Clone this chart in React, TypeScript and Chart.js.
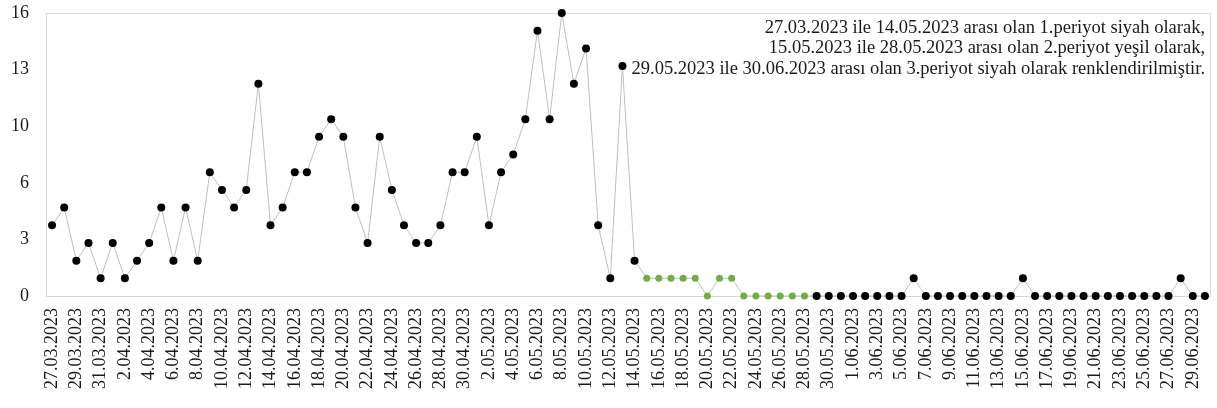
import React, { useEffect, useRef } from "react";
import { Chart, registerables } from "chart.js";

Chart.register(...registerables);

const dateLabels: string[] = [
  "27.03.2023", "28.03.2023", "29.03.2023", "30.03.2023", "31.03.2023",
  "1.04.2023", "2.04.2023", "3.04.2023", "4.04.2023", "5.04.2023", "6.04.2023", "7.04.2023", "8.04.2023", "9.04.2023", "10.04.2023",
  "11.04.2023", "12.04.2023", "13.04.2023", "14.04.2023", "15.04.2023", "16.04.2023", "17.04.2023", "18.04.2023", "19.04.2023", "20.04.2023",
  "21.04.2023", "22.04.2023", "23.04.2023", "24.04.2023", "25.04.2023", "26.04.2023", "27.04.2023", "28.04.2023", "29.04.2023", "30.04.2023",
  "1.05.2023", "2.05.2023", "3.05.2023", "4.05.2023", "5.05.2023", "6.05.2023", "7.05.2023", "8.05.2023", "9.05.2023", "10.05.2023",
  "11.05.2023", "12.05.2023", "13.05.2023", "14.05.2023", "15.05.2023", "16.05.2023", "17.05.2023", "18.05.2023", "19.05.2023", "20.05.2023",
  "21.05.2023", "22.05.2023", "23.05.2023", "24.05.2023", "25.05.2023", "26.05.2023", "27.05.2023", "28.05.2023", "29.05.2023", "30.05.2023",
  "31.05.2023", "1.06.2023", "2.06.2023", "3.06.2023", "4.06.2023", "5.06.2023", "6.06.2023", "7.06.2023", "8.06.2023", "9.06.2023",
  "10.06.2023", "11.06.2023", "12.06.2023", "13.06.2023", "14.06.2023", "15.06.2023", "16.06.2023", "17.06.2023", "18.06.2023", "19.06.2023",
  "20.06.2023", "21.06.2023", "22.06.2023", "23.06.2023", "24.06.2023", "25.06.2023", "26.06.2023", "27.06.2023", "28.06.2023", "29.06.2023",
  "30.06.2023",
];

// 1st period: 27.03.2023 – 14.05.2023 (black)
const period1Values: number[] = [
  4, 5, 2, 3, 1,
  3, 1, 2, 3, 5, 2, 5, 2, 7, 6, 5, 6, 12, 4, 5, 7, 7, 9, 10, 9, 5, 3, 9, 6, 4, 3, 3, 4, 7, 7,
  9, 4, 7, 8, 10, 15, 10, 16, 12, 14, 4, 1, 13, 2,
];
// 2nd period: 15.05.2023 – 28.05.2023 (green)
const period2Values: number[] = [1, 1, 1, 1, 1, 0, 1, 1, 0, 0, 0, 0, 0, 0];
// 3rd period: 29.05.2023 – 30.06.2023 (black)
const period3Values: number[] = [
  0, 0, 0,
  0, 0, 0, 0, 0, 1, 0, 0, 0, 0, 0, 0, 0, 0, 1, 0, 0, 0, 0, 0, 0, 0, 0, 0, 0, 0, 0, 1, 0, 0,
];

const yTickValues: number[] = [0, 3.2, 6.4, 9.6, 12.8, 16];

const noteLines: string[] = [
  "27.03.2023 ile 14.05.2023 arası olan 1.periyot siyah olarak,",
  "15.05.2023 ile 28.05.2023 arası olan 2.periyot yeşil olarak,",
  "29.05.2023 ile 30.06.2023 arası olan 3.periyot siyah olarak renklendirilmiştir.",
];

const BLACK = "#000000";
const GREEN = "#70AD47";
const LINE_GRAY = "#BFBFBF";
const FRAME_GRAY = "#D9D9D9";
const TEXT = "#1a1a1a";
const FONT = "'Liberation Serif', 'DejaVu Serif', serif";

export default function App() {
  const canvasRef = useRef<HTMLCanvasElement | null>(null);

  useEffect(() => {
    const canvas = canvasRef.current;
    if (!canvas) return;

    const values = [...period1Values, ...period2Values, ...period3Values];
    const pointColors = [
      ...period1Values.map(() => BLACK),
      ...period2Values.map(() => GREEN),
      ...period3Values.map(() => BLACK),
    ];
    const pointRadii = [
      ...period1Values.map(() => 4),
      ...period2Values.map(() => 3.5),
      ...period3Values.map(() => 4),
    ];

    const framePlugin = {
      id: "frameAndNote",
      beforeDatasetsDraw(chart: any) {
        const { ctx, chartArea } = chart;
        ctx.save();
        ctx.strokeStyle = FRAME_GRAY;
        ctx.lineWidth = 1;
        ctx.strokeRect(
          Math.round(chartArea.left) + 0.5,
          Math.round(chartArea.top) + 0.5,
          Math.round(chartArea.right - chartArea.left) - 1,
          Math.round(chartArea.bottom - chartArea.top)
        );
        ctx.restore();
      },
      afterDraw(chart: any) {
        const { ctx } = chart;
        ctx.save();
        ctx.font = `18.5px ${FONT}`;
        ctx.fillStyle = TEXT;
        ctx.textAlign = "right";
        ctx.textBaseline = "alphabetic";
        const baselines = [32.5, 53, 73.5];
        noteLines.forEach((t, i) => ctx.fillText(t, 1205, baselines[i]));
        ctx.restore();
      },
    };

    const chart = new Chart(canvas, {
      type: "line",
      data: {
        labels: dateLabels,
        datasets: [
          {
            data: values,
            borderColor: LINE_GRAY,
            borderWidth: 1,
            pointBackgroundColor: pointColors,
            pointBorderColor: pointColors,
            pointBorderWidth: 0,
            pointRadius: pointRadii,
            tension: 0,
            fill: false,
            clip: false as any,
          },
        ],
      },
      options: {
        animation: false,
        responsive: false,
        maintainAspectRatio: false,
        layout: { padding: { top: 13, right: 6, left: 0, bottom: 0 } },
        plugins: {
          legend: { display: false },
          tooltip: { enabled: false },
        },
        scales: {
          x: {
            type: "category",
            offset: true,
            grid: { display: false, drawTicks: false },
            border: { display: false },
            ticks: {
              autoSkip: false,
              minRotation: 90,
              maxRotation: 90,
              padding: 12,
              color: TEXT,
              font: { family: FONT, size: 18 },
              callback: (_v: any, i: number) => (i % 2 === 0 ? dateLabels[i] : ""),
            },
            afterFit: (scale: any) => {
              scale.height = 112;
              scale.paddingLeft = 0;
              scale.paddingRight = 0;
              scale.paddingTop = 0;
              scale.paddingBottom = 0;
            },
          },
          y: {
            min: 0,
            max: 16,
            grid: { display: false, drawTicks: false },
            border: { display: false },
            afterBuildTicks: (scale: any) => {
              scale.ticks = yTickValues.map((v) => ({ value: v }));
            },
            ticks: {
              padding: 17,
              color: TEXT,
              font: { family: FONT, size: 18 },
              callback: (v: any) => String(Math.round(Number(v))),
            },
            afterFit: (scale: any) => {
              scale.width = 46;
              scale.paddingLeft = 0;
              scale.paddingRight = 0;
              scale.paddingTop = 0;
              scale.paddingBottom = 0;
            },
          },
        },
      },
      plugins: [framePlugin],
    });

    return () => chart.destroy();
  }, []);

  return (
    <div style={{ position: "fixed", left: 0, top: 0, width: 1217, height: 408, background: "#fff" }}>
      <canvas ref={canvasRef} width={1217} height={408} style={{ width: 1217, height: 408, display: "block" }} />
    </div>
  );
}
